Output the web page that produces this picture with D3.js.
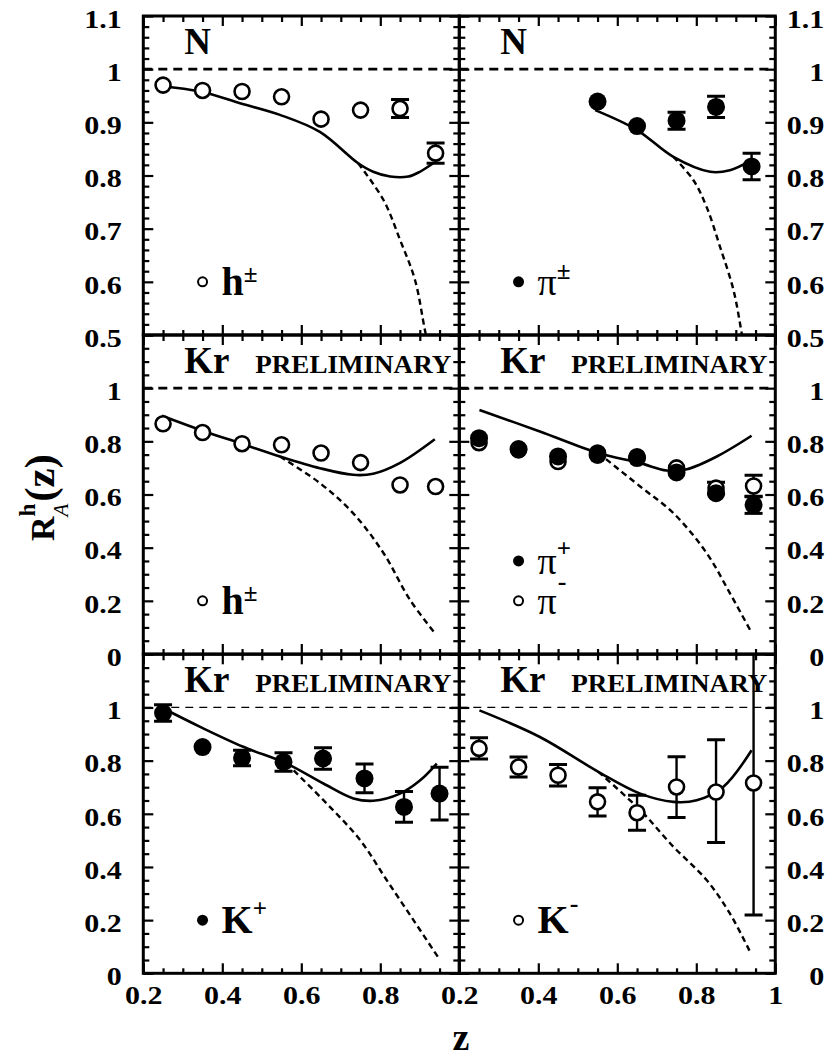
<!DOCTYPE html>
<html><head><meta charset="utf-8">
<script src="https://cdn.jsdelivr.net/npm/d3@7"></script>
<style>body{margin:0;background:#fff}svg{display:block}</style>
</head><body>
<svg id="chart" width="837" height="1060"></svg>
<script>
// ---------- axis definitions ----------
const xMajorTicks = [0.2, 0.4, 0.6, 0.8, 1.0];
const xLabelsLeftPanel = ["0.2", "0.4", "0.6", "0.8", ""];
const xLabelsRightPanel = ["0.2", "0.4", "0.6", "0.8", "1"];
const row1Domain = [0.5, 1.1];
const row1MajorTicks = [0.5, 0.6, 0.7, 0.8, 0.9, 1.0, 1.1];
const row1Labels = ["0.5", "0.6", "0.7", "0.8", "0.9", "1", "1.1"];
const rowKrDomain = [0, 1.2];
const rowKrMajorTicks = [0, 0.2, 0.4, 0.6, 0.8, 1.0, 1.2];
const rowKrLabels = ["0", "0.2", "0.4", "0.6", "0.8", "1", ""];

// ---------- data: N, h± ----------
const N_h_z   = [0.25, 0.35, 0.45, 0.55, 0.65, 0.75, 0.85, 0.94];
const N_h_val = [0.970, 0.960, 0.958, 0.948, 0.906, 0.923, 0.926, 0.842];
const N_h_err = [0.004, 0.004, 0.004, 0.004, 0.005, 0.006, 0.017, 0.019];
const N_h_solid_z = [0.245, 0.344, 0.445, 0.546, 0.647, 0.744, 0.782, 0.825, 0.871, 0.900, 0.934];
const N_h_solid_v = [0.968, 0.958, 0.936, 0.914, 0.882, 0.823, 0.807, 0.798, 0.798, 0.807, 0.823];
const N_h_dash_z  = [0.744, 0.808, 0.850, 0.888, 0.913, 0.930];
const N_h_dash_v  = [0.823, 0.754, 0.679, 0.603, 0.509, 0.450];

// ---------- data: N, π± ----------
const N_pi_z   = [0.55, 0.65, 0.75, 0.85, 0.94];
const N_pi_val = [0.939, 0.893, 0.903, 0.929, 0.817];
const N_pi_err = [0.005, 0.006, 0.016, 0.020, 0.025];
const N_pi_solid_z = [0.544, 0.649, 0.742, 0.835, 0.885, 0.940];
const N_pi_solid_v = [0.923, 0.886, 0.835, 0.807, 0.810, 0.829];
const N_pi_dash_z  = [0.742, 0.792, 0.826, 0.860, 0.894, 0.915, 0.925];
const N_pi_dash_v  = [0.835, 0.792, 0.741, 0.666, 0.585, 0.503, 0.460];

// ---------- data: Kr, h± ----------
const Kr_h_z   = [0.25, 0.35, 0.45, 0.55, 0.65, 0.75, 0.85, 0.94];
const Kr_h_val = [0.866, 0.833, 0.791, 0.787, 0.756, 0.720, 0.636, 0.630];
const Kr_h_err = [0.006, 0.006, 0.006, 0.007, 0.008, 0.010, 0.012, 0.015];
const Kr_h_solid_z = [0.247, 0.344, 0.445, 0.546, 0.647, 0.731, 0.782, 0.849, 0.938];
const Kr_h_solid_v = [0.896, 0.843, 0.793, 0.743, 0.699, 0.674, 0.678, 0.718, 0.808];
const Kr_h_dash_z  = [0.546, 0.647, 0.731, 0.808, 0.875, 0.938];
const Kr_h_dash_v  = [0.743, 0.643, 0.530, 0.380, 0.204, 0.079];

// ---------- data: Kr, π+ / π- ----------
const Kr_pi_z     = [0.25, 0.35, 0.45, 0.55, 0.65, 0.75, 0.85, 0.945];
const Kr_pip_val  = [0.812, 0.771, 0.743, 0.749, 0.737, 0.683, 0.605, 0.561];
const Kr_pip_err  = [0.010, 0.010, 0.010, 0.012, 0.014, 0.018, 0.022, 0.032];
const Kr_pim_val  = [0.795, 0.768, 0.724, 0.756, 0.742, 0.700, 0.624, 0.632];
const Kr_pim_err  = [0.010, 0.010, 0.010, 0.012, 0.014, 0.018, 0.022, 0.040];
const Kr_pi_solid_z = [0.251, 0.404, 0.552, 0.658, 0.725, 0.776, 0.852, 0.940];
const Kr_pi_solid_v = [0.918, 0.837, 0.756, 0.718, 0.690, 0.695, 0.743, 0.821];
const Kr_pi_dash_z  = [0.552, 0.658, 0.742, 0.826, 0.885, 0.936];
const Kr_pi_dash_v  = [0.756, 0.630, 0.530, 0.380, 0.229, 0.091];

// ---------- data: Kr, K+ ----------
const Kr_Kp_z   = [0.25, 0.35, 0.45, 0.555, 0.655, 0.76, 0.86, 0.95];
const Kr_Kp_val = [0.979, 0.851, 0.810, 0.795, 0.808, 0.733, 0.626, 0.676];
const Kr_Kp_err = [0.031, 0.008, 0.029, 0.035, 0.040, 0.054, 0.058, 0.099];
const Kr_Kp_solid_z = [0.251, 0.344, 0.453, 0.563, 0.656, 0.732, 0.782, 0.850, 0.901, 0.943];
const Kr_Kp_solid_v = [0.996, 0.927, 0.852, 0.789, 0.714, 0.658, 0.649, 0.676, 0.726, 0.789];
const Kr_Kp_dash_z  = [0.563, 0.664, 0.749, 0.816, 0.884, 0.951];
const Kr_Kp_dash_v  = [0.789, 0.639, 0.501, 0.351, 0.200, 0.050];

// ---------- data: Kr, K- ----------
const Kr_Km_z     = [0.25, 0.35, 0.45, 0.55, 0.65, 0.75, 0.85, 0.945];
const Kr_Km_val   = [0.846, 0.776, 0.745, 0.645, 0.604, 0.701, 0.682, 0.716];
const Kr_Km_errLo = [0.040, 0.038, 0.040, 0.053, 0.066, 0.115, 0.190, 0.497];
const Kr_Km_errHi = [0.040, 0.038, 0.040, 0.053, 0.066, 0.114, 0.197, 0.600];
const Kr_Km_solid_z = [0.251, 0.404, 0.552, 0.658, 0.742, 0.801, 0.868, 0.940];
const Kr_Km_solid_v = [0.989, 0.889, 0.758, 0.676, 0.645, 0.651, 0.701, 0.839];
const Kr_Km_dash_z  = [0.552, 0.658, 0.742, 0.826, 0.885, 0.936];
const Kr_Km_dash_v  = [0.758, 0.614, 0.476, 0.351, 0.225, 0.081];

// ---------- layout ----------
const FONT = "'Liberation Serif','Times New Roman',Times,serif";
const panelX = [143.3, 459.3];
const rowY = [16, 335, 654.3];
const PW = 316, PH = 319;
const STRETCH = 1.2;
const R_OPEN = 7.5, R_FILLED = 9;

const zip = (zs, vs) => zs.map((z, i) => ({z, v: vs[i]}));
const pts = (zs, vs, lo, hi, filled) => zs.map((z, i) => ({z, v: vs[i], lo: lo[i], hi: hi[i], filled}));

const panelDefs = [
  {row: 0, col: 0, title: "N", prelim: false,
   series: [pts(N_h_z, N_h_val, N_h_err, N_h_err, false)],
   solid: zip(N_h_solid_z, N_h_solid_v), dash: zip(N_h_dash_z, N_h_dash_v),
   legend: [{z: 0.35, v: 0.6, filled: false, main: "h", sup: "\u00b1", greek: false, supDy: -13}]},
  {row: 0, col: 1, title: "N", prelim: false,
   series: [pts(N_pi_z, N_pi_val, N_pi_err, N_pi_err, true)],
   solid: zip(N_pi_solid_z, N_pi_solid_v), dash: zip(N_pi_dash_z, N_pi_dash_v),
   legend: [{z: 0.35, v: 0.6, filled: true, main: "\u03c0", sup: "\u00b1", greek: true, supDy: -16}]},
  {row: 1, col: 0, title: "Kr", prelim: true,
   series: [pts(Kr_h_z, Kr_h_val, Kr_h_err, Kr_h_err, false)],
   solid: zip(Kr_h_solid_z, Kr_h_solid_v), dash: zip(Kr_h_dash_z, Kr_h_dash_v),
   legend: [{z: 0.35, v: 0.2, filled: false, main: "h", sup: "\u00b1", greek: false, supDy: -13}]},
  {row: 1, col: 1, title: "Kr", prelim: true,
   series: [pts(Kr_pi_z, Kr_pim_val, Kr_pim_err, Kr_pim_err, false),
            pts(Kr_pi_z, Kr_pip_val, Kr_pip_err, Kr_pip_err, true)],
   solid: zip(Kr_pi_solid_z, Kr_pi_solid_v), dash: zip(Kr_pi_dash_z, Kr_pi_dash_v),
   legend: [{z: 0.35, v: 0.35, filled: true, main: "\u03c0", sup: "+", greek: true, supDy: -17},
            {z: 0.35, v: 0.2, filled: false, main: "\u03c0", sup: "-", greek: true, supDy: -24}]},
  {row: 2, col: 0, title: "Kr", prelim: true,
   series: [pts(Kr_Kp_z, Kr_Kp_val, Kr_Kp_err, Kr_Kp_err, true)],
   solid: zip(Kr_Kp_solid_z, Kr_Kp_solid_v), dash: zip(Kr_Kp_dash_z, Kr_Kp_dash_v),
   legend: [{z: 0.35, v: 0.2, filled: true, main: "K", sup: "+", greek: false, supDy: -16}]},
  {row: 2, col: 1, title: "Kr", prelim: true,
   series: [pts(Kr_Km_z, Kr_Km_val, Kr_Km_errLo, Kr_Km_errHi, false)],
   solid: zip(Kr_Km_solid_z, Kr_Km_solid_v), dash: zip(Kr_Km_dash_z, Kr_Km_dash_v),
   legend: [{z: 0.35, v: 0.2, filled: false, main: "K", sup: "-", greek: false, supDy: -21}]}
];

const svg = d3.select("#chart");
svg.append("rect").attr("width", 837).attr("height", 1060).attr("fill", "#fff");
const defs = svg.append("defs");

function minorTicks(domain, step) {
  const n = Math.round((domain[1] - domain[0]) / step);
  return d3.range(n + 1).map(i => +(domain[0] + i * step).toFixed(4));
}
const notMajor = (vals, majors) => vals.filter(v => !majors.some(m => Math.abs(m - v) < 1e-6));

function styleAxis(a, sw) {
  a.select(".domain").remove();
  a.selectAll("line").attr("stroke", "#000").attr("stroke-width", sw);
  a.selectAll("text").attr("font-family", FONT).attr("font-weight", "bold")
    .attr("font-size", 25).attr("fill", "#000");
}
function stretchText(a) {
  a.selectAll("text").attr("transform", function () {
    const x = +(this.getAttribute("x") || 0);
    return `translate(${x},0) scale(${STRETCH},1) translate(${-x},0)`;
  });
}

panelDefs.forEach((p, idx) => {
  const g = svg.append("g").attr("transform", `translate(${panelX[p.col]},${rowY[p.row]})`);
  const yDom = p.row === 0 ? row1Domain : rowKrDomain;
  const yMaj = p.row === 0 ? row1MajorTicks : rowKrMajorTicks;
  const yLab = p.row === 0 ? row1Labels : rowKrLabels;
  const yMin = notMajor(minorTicks(yDom, p.row === 0 ? 0.02 : 0.05), yMaj);
  const xMin = notMajor(minorTicks([0.2, 1.0], 0.05), xMajorTicks);
  const x = d3.scaleLinear().domain([0.2, 1.0]).range([0, PW]);
  const y = d3.scaleLinear().domain(yDom).range([PH, 0]);

  const cid = "clip" + idx;
  defs.append("clipPath").attr("id", cid).append("rect")
    .attr("x", 0).attr("y", 0).attr("width", PW).attr("height", PH);
  const inner = g.append("g").attr("clip-path", `url(#${cid})`);

  inner.append("line").attr("x1", 0).attr("x2", PW).attr("y1", y(1)).attr("y2", y(1))
    .attr("stroke", "#000")
    .attr("stroke-width", p.row === 2 ? 1.3 : 2.6)
    .attr("stroke-dasharray", p.row === 2 ? "8,6" : "9,6");

  const line = d3.line().x(d => x(d.z)).y(d => y(d.v)).curve(d3.curveCatmullRom.alpha(0.5));
  inner.append("path").datum(p.dash).attr("d", line).attr("fill", "none")
    .attr("stroke", "#000").attr("stroke-width", 2.4).attr("stroke-dasharray", "6,4");
  inner.append("path").datum(p.solid).attr("d", line).attr("fill", "none")
    .attr("stroke", "#000").attr("stroke-width", 2.6);

  p.series.forEach(s => {
    const r = s[0].filled ? R_FILLED : R_OPEN;
    const sg = inner.append("g");
    const eb = s.filter(d => Math.max(y(d.v) - y(d.v + d.hi), y(d.v - d.lo) - y(d.v)) > r - 2.5);
    sg.selectAll("line.eb").data(eb).join("line").attr("class", "eb")
      .attr("x1", d => x(d.z)).attr("x2", d => x(d.z))
      .attr("y1", d => y(d.v + d.hi)).attr("y2", d => y(d.v - d.lo))
      .attr("stroke", "#000").attr("stroke-width", 2.4);
    sg.selectAll("line.capt").data(eb).join("line").attr("class", "capt")
      .attr("x1", d => x(d.z) - 9).attr("x2", d => x(d.z) + 9)
      .attr("y1", d => y(d.v + d.hi)).attr("y2", d => y(d.v + d.hi))
      .attr("stroke", "#000").attr("stroke-width", 3);
    sg.selectAll("line.capb").data(eb).join("line").attr("class", "capb")
      .attr("x1", d => x(d.z) - 9).attr("x2", d => x(d.z) + 9)
      .attr("y1", d => y(d.v - d.lo)).attr("y2", d => y(d.v - d.lo))
      .attr("stroke", "#000").attr("stroke-width", 3);
    sg.selectAll("circle").data(s).join("circle")
      .attr("cx", d => x(d.z)).attr("cy", d => y(d.v))
      .attr("r", d => d.filled ? R_FILLED : R_OPEN)
      .attr("fill", d => d.filled ? "#000" : "#fff")
      .attr("stroke", "#000").attr("stroke-width", d => d.filled ? 0 : 2.6);
  });

  p.legend.forEach(L => {
    const lx = x(L.z), ly = y(L.v);
    g.append("circle").attr("cx", lx).attr("cy", ly).attr("r", L.filled ? 5.5 : 4.5)
      .attr("fill", L.filled ? "#000" : "#fff").attr("stroke", "#000")
      .attr("stroke-width", L.filled ? 0 : 2);
    const t = g.append("text").attr("x", lx + 19).attr("y", ly + 13)
      .attr("font-family", FONT).attr("fill", "#000");
    t.append("tspan").attr("font-size", L.greek ? 38 : 40)
      .attr("font-weight", L.greek ? "normal" : "bold").text(L.main);
    t.append("tspan").attr("font-size", L.sup === "-" ? 26 : 25).attr("font-weight", "bold")
      .attr("dy", L.supDy).attr("dx", L.sup === "-" ? 1 : 0).text(L.sup);
  });

  g.append("text").attr("x", 41).attr("y", 38).attr("font-family", FONT)
    .attr("font-weight", "bold").attr("font-size", 37).attr("fill", "#000").text(p.title);
  if (p.prelim) {
    g.append("text").attr("x", 112).attr("y", 38).attr("font-family", FONT)
      .attr("font-weight", "bold").attr("font-size", 25).attr("fill", "#000")
      .attr("textLength", 196).attr("lengthAdjust", "spacingAndGlyphs").text("PRELIMINARY");
  }

  const fmtY = (d, i) => yLab[i];
  let a = g.append("g").call(d3.axisLeft(y).tickValues(yMaj).tickSize(-10).tickPadding(21.5)
    .tickFormat(p.col === 0 ? fmtY : () => ""));
  styleAxis(a, 2.2); a.selectAll("text").attr("dy", "0.45em"); stretchText(a);
  a = g.append("g").call(d3.axisLeft(y).tickValues(yMin).tickSize(-6).tickFormat(""));
  styleAxis(a, 2.2);
  a = g.append("g").attr("transform", `translate(${PW},0)`)
    .call(d3.axisRight(y).tickValues(yMaj).tickSize(-10).tickFormat(p.col === 1 ? fmtY : () => ""));
  styleAxis(a, 2.2);
  a.selectAll("text").attr("x", 49).attr("text-anchor", "end").attr("dy", "0.45em"); stretchText(a);
  a = g.append("g").attr("transform", `translate(${PW},0)`)
    .call(d3.axisRight(y).tickValues(yMin).tickSize(-6).tickFormat(""));
  styleAxis(a, 2.2);
  a = g.append("g").call(d3.axisTop(x).tickValues(xMajorTicks).tickSize(-10).tickFormat(""));
  styleAxis(a, 2.2);
  a = g.append("g").call(d3.axisTop(x).tickValues(xMin).tickSize(-6).tickFormat(""));
  styleAxis(a, 2.2);
  const xl = p.col === 0 ? xLabelsLeftPanel : xLabelsRightPanel;
  a = g.append("g").attr("transform", `translate(0,${PH})`)
    .call(d3.axisBottom(x).tickValues(xMajorTicks).tickSize(-10).tickPadding(12.5)
      .tickFormat(p.row === 2 ? (d, i) => xl[i] : () => ""));
  styleAxis(a, 2.2); stretchText(a);
  a = g.append("g").attr("transform", `translate(0,${PH})`)
    .call(d3.axisBottom(x).tickValues(xMin).tickSize(-5).tickFormat(""));
  styleAxis(a, 2.2);

  g.append("rect").attr("x", 0).attr("y", 0).attr("width", PW).attr("height", PH)
    .attr("fill", "none").attr("stroke", "#000").attr("stroke-width", 3);
});

svg.append("text").attr("x", 461).attr("y", 1050).attr("text-anchor", "middle")
  .attr("font-family", FONT).attr("font-weight", "bold").attr("font-size", 38).attr("fill", "#000").text("z");

const yt = svg.append("text").attr("transform", "translate(54,541) rotate(-90)")
  .attr("font-family", FONT).attr("fill", "#000");
yt.append("tspan").attr("font-size", 34).attr("font-weight", "bold").text("R");
yt.append("tspan").attr("font-size", 21).attr("font-style", "italic").attr("dy", 14).text("A");
yt.append("tspan").attr("font-size", 23).attr("font-weight", "bold").attr("dx", -13).attr("dy", -33).text("h");
yt.append("tspan").attr("font-size", 43).attr("font-weight", "bold").attr("dx", 2).attr("dy", 19).text("(z)");
</script>
</body></html>
